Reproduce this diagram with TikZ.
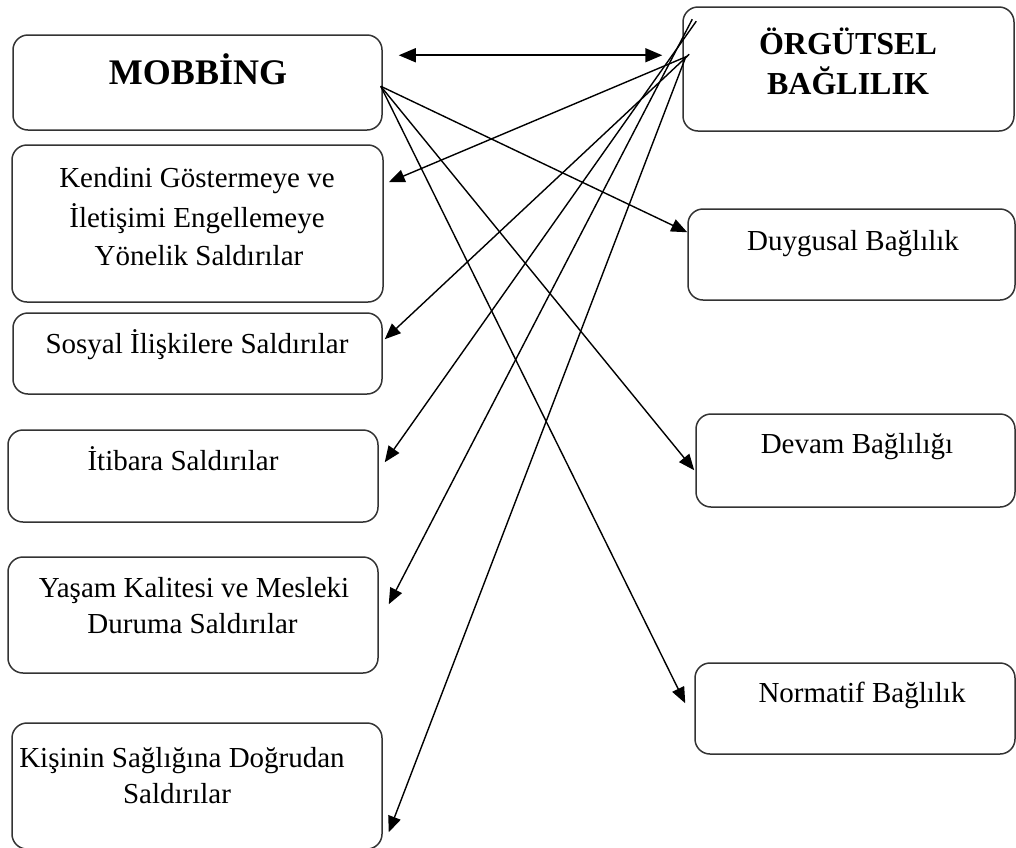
\documentclass[tikz,border=0pt]{standalone}
\usepackage{fontspec}
\setmainfont{Liberation Serif}
\usetikzlibrary{arrows.meta,fit,calc}
\begin{document}
\begin{tikzpicture}[x=0.5pt,y=-0.5pt,
  box/.style={draw=black!80, line width=0.75pt, rounded corners=7.5pt, inner sep=0pt},
  txt/.style={anchor=base, inner sep=0pt, font=\fontsize{14.5pt}{19.5pt}\selectfont},
  ttlA/.style={anchor=base, inner sep=0pt, font=\fontsize{18pt}{22pt}\selectfont\bfseries},
  ttlB/.style={anchor=base, inner sep=0pt, font=\fontsize{16pt}{20pt}\selectfont\bfseries},
  tip/.style={Triangle[length=8pt,width=6.5pt]},
  con/.style={line width=0.7pt, -{Triangle[length=8pt,width=6.5pt]}},
  dcon/.style={line width=0.8pt, {Triangle[length=8.5pt,width=7pt]}-{Triangle[length=8.5pt,width=7pt]}}]
\useasboundingbox (0,0) rectangle (1016,847);

% boxes
\node[box, fit={(13,35) (382,130)}] (mob) {};
\node[box, fit={(683,7) (1014,131)}] (org) {};
\node[box, fit={(12,145) (383,302)}] (ken) {};
\node[box, fit={(13,313) (382,394)}] (sos) {};
\node[box, fit={(8,430) (378,522)}] (iti) {};
\node[box, fit={(8,557) (378,673)}] (yas) {};
\node[box, fit={(12,723) (382,849)}] (kis) {};
\node[box, fit={(688,209) (1015,300)}] (duy) {};
\node[box, fit={(696,414) (1015,507)}] (dev) {};
\node[box, fit={(695,663) (1015,754)}] (nor) {};

% texts
\node[ttlA] (tmob) at (198,84) {MOBBİNG};
\node[ttlB] (torg1) at (848,54) {ÖRGÜTSEL};
\node[ttlB] (torg2) at (848,94) {BAĞLILIK};
\node[txt] (tken1) at (197,187) {Kendini Göstermeye ve};
\node[txt] (tken2) at (197,227) {İletişimi Engellemeye};
\node[txt] (tken3) at (199,265) {Yönelik Saldırılar};
\node[txt] (tsos) at (197,353) {Sosyal İlişkilere Saldırılar};
\node[txt] (titi) at (183,470) {İtibara Saldırılar};
\node[txt] (tyas1) at (194,597) {Yaşam Kalitesi ve Mesleki};
\node[txt] (tyas2) at (192.5,633) {Duruma Saldırılar};
\node[txt] (tkis1) at (182,767) {Kişinin Sağlığına Doğrudan};
\node[txt] (tkis2) at (177,803) {Saldırılar};
\node[txt] (tduy) at (853,250) {Duygusal Bağlılık};
\node[txt] (tdev) at (857,453) {Devam Bağlılığı};
\node[txt] (tnor) at (862,702) {Normatif Bağlılık};

% connector ends
\coordinate (mobOut) at ($(mob.north east)+(-2,52)$);
\coordinate (mobL) at ($(mob.north east)+(16,21)$);
\coordinate (orgR) at ($(org.north west)+(-20,49)$);
\coordinate (oKen) at ($(org.north west)+(5,50)$);
\coordinate (oSos) at ($(org.north west)+(7,48)$);
\coordinate (oIti) at ($(org.north west)+(14,15)$);
\coordinate (oYas) at ($(org.north west)+(10,13)$);
\coordinate (oKis) at ($(org.north west)+(3,52)$);
\coordinate (inKen) at ($(ken.north east)+(5,38)$);
\coordinate (inSos) at ($(sos.north east)+(2,27)$);
\coordinate (inIti) at ($(iti.north east)+(6,33)$);
\coordinate (inYas) at ($(yas.north east)+(10,48)$);
\coordinate (inKis) at ($(kis.north east)+(6,110)$);
\coordinate (inDuy) at ($(duy.north west)+(0,24)$);
\coordinate (inDev) at ($(dev.north west)+(-1,57)$);
\coordinate (inNor) at ($(nor.north west)+(-9,41)$);

% connectors
\draw[dcon] (mobL) -- (orgR);
\draw[con] (mobOut) -- (inDuy);
\draw[con] (mobOut) -- (inDev);
\draw[con] (mobOut) -- (inNor);
\draw[con] (oKen) -- (inKen);
\draw[con] (oSos) -- (inSos);
\draw[con] (oIti) -- (inIti);
\draw[con] (oYas) -- (inYas);
\draw[con] (oKis) -- (inKis);
\end{tikzpicture}
\end{document}
